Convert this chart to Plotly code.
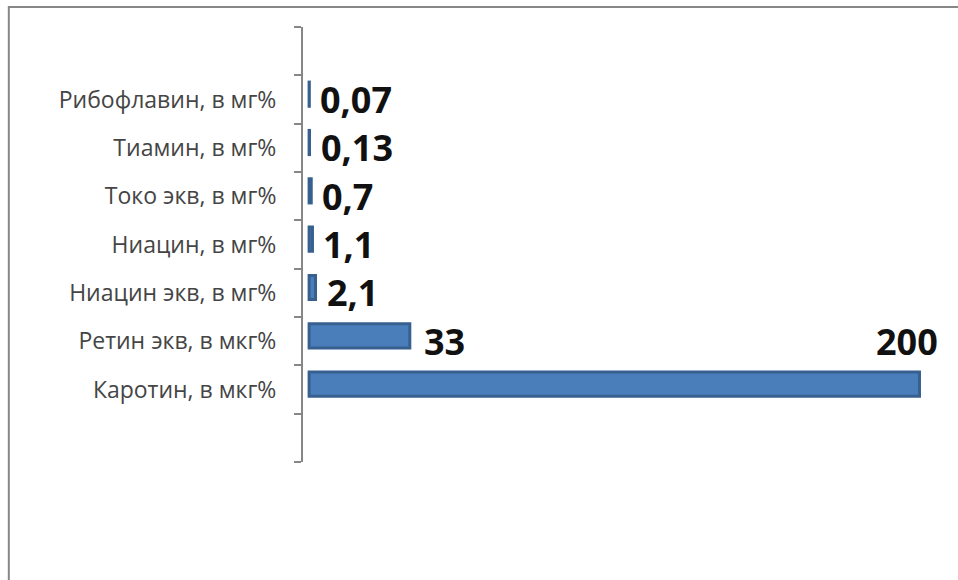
import plotly.graph_objects as go

# Vitamin content, listed bottom-to-top as shown on the chart
categories = [
    "Каротин, в мкг%",
    "Ретин экв, в мкг%",
    "Ниацин экв, в мг%",
    "Ниацин, в мг%",
    "Токо экв, в мг%",
    "Тиамин, в мг%",
    "Рибофлавин, в мг%",
]
values = [200, 33, 2.1, 1.1, 0.7, 0.13, 0.07]
value_labels = ["200", "33", "2,1", "1,1", "0,7", "0,13", "0,07"]

positions = list(range(len(categories)))
boundaries = [p - 0.5 for p in range(-1, len(categories) + 2)]

BAR_FILL = "#4A7EBB"
BAR_EDGE = "#37608F"
BAR_WIDTH = 0.5

fig = go.Figure()
fig.add_trace(go.Bar(
    x=values,
    y=positions,
    orientation="h",
    width=BAR_WIDTH,
    offset=-BAR_WIDTH / 2 + 0.11,
    marker=dict(color=BAR_FILL, line=dict(color=BAR_EDGE, width=3)),
    hoverinfo="skip",
))

# Value labels at the end of each bar; the widest bar's label sits above it
label_font = dict(family="Open Sans", size=36, color="#111111", weight="bold")
for val, pos, lab in zip(values, positions, value_labels):
    if val == max(values):
        fig.add_annotation(x=val, y=pos, text=lab, showarrow=False,
                           xanchor="right", yanchor="middle",
                           xshift=21, yshift=48, font=label_font)
    else:
        fig.add_annotation(x=val, y=pos, text=lab, showarrow=False,
                           xanchor="left", yanchor="middle",
                           xshift=9 if val < 10 else 12, yshift=0,
                           font=label_font)

# Chart frame
fig.add_shape(type="rect", xref="paper", yref="paper",
              x0=-0.4547, x1=1.2, y0=-0.6, y1=1.046,
              line=dict(color="#878787", width=2), fillcolor="rgba(0,0,0,0)",
              layer="below")

fig.update_layout(
    width=958, height=580,
    margin=dict(l=303, r=8, t=27, b=118),
    paper_bgcolor="white", plot_bgcolor="white",
    showlegend=False,
    xaxis=dict(range=[-2, 210], visible=False),
    yaxis=dict(
        range=[-1.5, 7.5],
        tickvals=positions, ticktext=categories,
        ticks="", ticklabelstandoff=20,
        tickfont=dict(family="Open Sans", size=23, color="#454545"),
        showgrid=False, zeroline=False,
        showline=True, linecolor="#868686", linewidth=2,
        minor=dict(tickvals=boundaries, ticks="outside", ticklen=7,
                   tickcolor="#868686", tickwidth=2, showgrid=False),
    ),
)

fig.write_html("out.html")
